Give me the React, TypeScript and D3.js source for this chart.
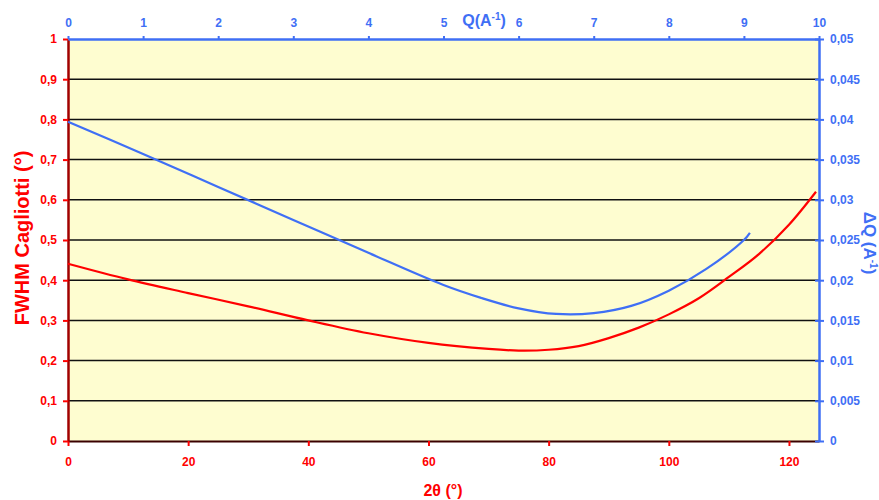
import React, { useEffect, useRef } from "react";
import * as d3 from "d3";

// FWHM (Cagliotti) vs 2theta
const twoTheta = [0, 10, 20, 30, 40, 50, 60, 70, 75, 80, 85, 90, 95, 100, 105, 110, 115, 120, 124.5];
const fwhm = [0.441, 0.402, 0.368, 0.335, 0.3, 0.268, 0.244, 0.229, 0.225, 0.227, 0.236, 0.256, 0.282, 0.315, 0.355, 0.408, 0.465, 0.538, 0.62];

// delta Q vs Q
const qValues = [0, 1, 2, 3, 4, 5, 5.5, 6, 6.5, 7, 7.5, 8, 8.5, 9, 9.08];
const deltaQ = [0.0397, 0.0357, 0.0316, 0.0275, 0.0234, 0.0194, 0.0178, 0.0165, 0.0158, 0.0159, 0.0168, 0.0187, 0.0214, 0.025, 0.0259];

const leftTicks = [0, 0.1, 0.2, 0.3, 0.4, 0.5, 0.6, 0.7, 0.8, 0.9, 1];
const rightTicks = [0, 0.005, 0.01, 0.015, 0.02, 0.025, 0.03, 0.035, 0.04, 0.045, 0.05];
const bottomTicks = [0, 20, 40, 60, 80, 100, 120];
const topTicks = [0, 1, 2, 3, 4, 5, 6, 7, 8, 9, 10];

const RED = "#ff0000";
const BLUE = "#3f6ff5";
const FONT = "'Liberation Sans', Arial, sans-serif";

const fmt = (v: number) => String(v).replace(".", ",");

export default function App() {
    const ref = useRef<SVGSVGElement>(null);

    useEffect(() => {
        const svgWidth = 879, svgHeight = 500;
        const margin = { top: 39, right: 60, bottom: 59, left: 68 };
        const width = svgWidth - margin.left - margin.right;
        const height = svgHeight - margin.top - margin.bottom;

        const root = d3.select(ref.current);
        root.selectAll("*").remove();
        const svg = root.append("g")
            .attr("transform", "translate(" + margin.left + "," + margin.top + ")");

        const x = d3.scaleLinear().domain([0, 125]).range([0, width]);
        const xq = d3.scaleLinear().domain([0, 10]).range([0, width]);
        const y = d3.scaleLinear().domain([0, 1]).range([height, 0]);
        const yr = d3.scaleLinear().domain([0, 0.05]).range([height, 0]);

        // plot background
        svg.append("rect")
            .attr("width", width)
            .attr("height", height)
            .attr("fill", "#fefdd0");

        // grid
        svg.append("g")
            .selectAll("line")
            .data(leftTicks.filter(d => d > 0 && d < 1))
            .join("line")
            .attr("x1", 0)
            .attr("x2", width)
            .attr("y1", d => y(d))
            .attr("y2", d => y(d))
            .attr("stroke", "#111")
            .attr("stroke-width", 1.5);

        const styleAxis = (g: any, color: string, lineColor: string, lw: number) => {
            g.selectAll("text")
                .attr("fill", color)
                .attr("font-family", FONT)
                .attr("font-weight", "bold")
                .attr("font-size", 12);
            g.selectAll(".tick line").attr("stroke", color).attr("stroke-width", 2);
            g.select(".domain").attr("stroke", lineColor).attr("stroke-width", lw);
        };

        // bottom axis
        const gb = svg.append("g")
            .attr("transform", "translate(0," + height + ")")
            .call(d3.axisBottom(x).tickValues(bottomTicks).tickSize(5).tickSizeOuter(0).tickPadding(11).tickFormat(d => fmt(+d)));
        styleAxis(gb, RED, "#3a0000", 2);

        // left axis
        const gl = svg.append("g")
            .call(d3.axisLeft(y).tickValues(leftTicks).tickSize(5).tickSizeOuter(0).tickPadding(6).tickFormat(d => fmt(+d)));
        styleAxis(gl, RED, "#a00000", 2.5);

        // top axis
        const gt = svg.append("g")
            .call(d3.axisTop(xq).tickValues(topTicks).tickSize(3).tickSizeOuter(0).tickPadding(9).tickFormat(d => fmt(+d)));
        styleAxis(gt, BLUE, BLUE, 2.5);

        // right axis
        const gr = svg.append("g")
            .attr("transform", "translate(" + width + ",0)")
            .call(d3.axisRight(yr).tickValues(rightTicks).tickSize(5).tickSizeOuter(0).tickPadding(6).tickFormat(d => fmt(+d)));
        styleAxis(gr, BLUE, BLUE, 2.5);
        gr.selectAll(".tick line").attr("x1", -4);

        // curves
        const redLine = d3.line<number>()
            .curve(d3.curveCatmullRom.alpha(0.5))
            .x((d, i) => x(twoTheta[i]))
            .y(d => y(d));
        svg.append("path")
            .datum(fwhm)
            .attr("fill", "none")
            .attr("stroke", RED)
            .attr("stroke-width", 2.2)
            .attr("d", redLine);

        const blueLine = d3.line<number>()
            .curve(d3.curveCatmullRom.alpha(0.5))
            .x((d, i) => xq(qValues[i]))
            .y(d => yr(d));
        svg.append("path")
            .datum(deltaQ)
            .attr("fill", "none")
            .attr("stroke", BLUE)
            .attr("stroke-width", 2.2)
            .attr("d", blueLine);

        // titles
        const titles = root.append("g")
            .attr("font-family", FONT)
            .attr("font-weight", "bold")
            .attr("font-size", 16);

        titles.append("text")
            .attr("x", 443)
            .attr("y", 496)
            .attr("text-anchor", "middle")
            .attr("fill", RED)
            .text("2θ (°)");

        titles.append("text")
            .attr("transform", "translate(29,238) rotate(-90)")
            .attr("text-anchor", "middle")
            .attr("font-size", 20)
            .attr("fill", RED)
            .text("FWHM Cagliotti (°)");

        const qt = titles.append("text")
            .attr("x", 484)
            .attr("y", 26)
            .attr("text-anchor", "middle")
            .attr("fill", BLUE);
        qt.append("tspan").text("Q(A");
        qt.append("tspan").attr("font-size", 10).attr("dy", -6).text("-1");
        qt.append("tspan").attr("dy", 6).text(")");

        const rt = titles.append("text")
            .attr("transform", "translate(864,243) rotate(90)")
            .attr("text-anchor", "middle")
            .attr("font-size", 17)
            .attr("fill", BLUE);
        rt.append("tspan").text("ΔQ (A");
        rt.append("tspan").attr("font-size", 10).attr("dy", -6).text("-1");
        rt.append("tspan").attr("dy", 6).text(")");
    }, []);

    return (
        <svg ref={ref} width={879} height={500}
             style={{ position: "absolute", left: 0, top: 0, background: "#fff" }} />
    );
}
